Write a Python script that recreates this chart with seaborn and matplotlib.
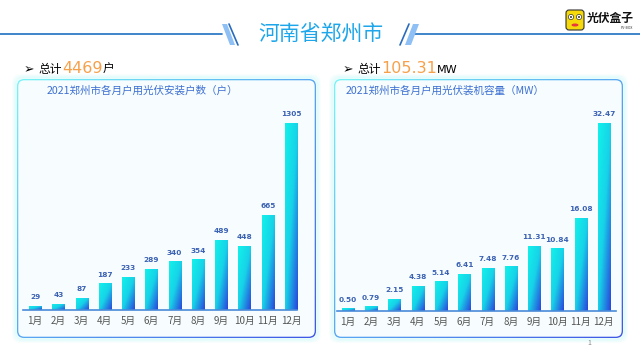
import numpy as np
import matplotlib
matplotlib.use("Agg")
import matplotlib.pyplot as plt
from matplotlib.patches import FancyBboxPatch, Polygon, Circle, Ellipse
from matplotlib.colors import LinearSegmentedColormap
import seaborn as sns

# 数据
months = ["1月", "2月", "3月", "4月", "5月", "6月", "7月", "8月", "9月", "10月", "11月", "12月"]
households = [29, 43, 87, 187, 233, 289, 340, 354, 489, 448, 665, 1305]
capacity = [0.50, 0.79, 2.15, 4.38, 5.14, 6.41, 7.48, 7.76, 11.31, 10.84, 16.08, 32.47]
total_households = "4469"
total_capacity = "105.31"
page_title = "河南省郑州市"
left_title = "2021郑州市各月户用光伏安装户数（户）"
right_title = "2021郑州市各月户用光伏装机容量（MW）"

sns.set_style("white")
plt.rcParams['font.family'] = ['Noto Sans CJK SC', 'DejaVu Sans']

bar_cmap = LinearSegmentedColormap.from_list("bar", ["#12f2ea", "#17d2e8", "#2a44dc"])
edge_cmap = LinearSegmentedColormap.from_list("edge", ["#7af3f6", "#5aa8f2", "#3f58e6"])

fig = plt.figure(figsize=(6.4, 3.6), dpi=100)
fig.patch.set_facecolor("white")

# 背景层，像素坐标（y 向上）
bg = fig.add_axes([0, 0, 1, 1])
bg.set_xlim(0, 640)
bg.set_ylim(0, 360)
bg.axis("off")
H = 360


def gradient_fill(ax, patch, cmap, x0, y0, w, h, z):
    # 左上 -> 右下 的渐变
    U, V = np.meshgrid(np.linspace(0, 1, 30), np.linspace(0, 1, 80))
    im = ax.imshow((U + V) / 2, cmap=cmap, vmin=0, vmax=1, origin="upper",
                   extent=(x0, x0 + w, y0, y0 + h), aspect="auto",
                   interpolation="bilinear", zorder=z)
    im.set_clip_path(patch)
    return im


def panel(x0, top, x1, bottom):
    y0 = H - bottom
    w, h = x1 - x0, bottom - top
    for k in range(5, 0, -1):
        bg.add_patch(FancyBboxPatch((x0, y0), w, h, boxstyle=f"round,pad={k*0.8},rounding_size=7",
                                    fc="none", ec="#9af5f8", lw=1.2, alpha=0.035 * (6 - k), zorder=1))
    outer = FancyBboxPatch((x0, y0), w, h, boxstyle="round,pad=0,rounding_size=7",
                           fc="white", ec="none", zorder=2)
    bg.add_patch(outer)
    gradient_fill(bg, outer, edge_cmap, x0, y0, w, h, 2.1)
    bg.add_patch(FancyBboxPatch((x0 + 1.3, y0 + 1.3), w - 2.6, h - 2.6,
                                boxstyle="round,pad=0,rounding_size=6",
                                fc="#f7fdfe", ec="none", zorder=3))


panel(17, 79, 316, 338)
panel(334, 79, 623, 338)
bg.add_patch(FancyBboxPatch((95, H - 335), 65, 3, boxstyle="round,pad=1.5,rounding_size=2",
                            fc="#c8f6f9", ec="none", alpha=0.7, zorder=1))

# 标题与装饰
bg.plot([0, 222], [H - 34, H - 34], color="#1f6fc0", lw=1.2, zorder=4)
bg.plot([415, 640], [H - 34, H - 34], color="#1f6fc0", lw=1.2, zorder=4)
bg.add_patch(Polygon([(222, H - 24), (227, H - 24), (235, H - 45), (230, H - 45)],
                     closed=True, fc="#8ec0f5", ec="none", zorder=4))
bg.plot([229, 238], [H - 24, H - 45], color="#2a6bbd", lw=1.2, zorder=4)
bg.add_patch(Polygon([(413, H - 24), (419, H - 24), (411, H - 45), (405, H - 45)],
                     closed=True, fc="#8ec0f5", ec="none", zorder=4))
bg.plot([409, 400], [H - 24, H - 45], color="#2a6bbd", lw=1.2, zorder=4)
bg.text(321, H - 35, page_title, ha="center", va="center", fontsize=15,
        color="#1ea6ea", zorder=5)

# 小标题（多色文字顺序排列）
renderer = fig.canvas.get_renderer()


def rich(x, y, parts):
    for s, kw in parts:
        t = bg.text(x, y, s, ha="left", va="baseline", zorder=5, **kw)
        x += t.get_window_extent(renderer=renderer).width


rich(24, H - 73, [("➢ ", dict(fontsize=9, family="DejaVu Sans", color="black")),
                  ("总计", dict(fontsize=8.5, color="black")),
                  (total_households, dict(fontsize=11.5, color="#f7a04a", family="DejaVu Sans")),
                  ("户", dict(fontsize=8.5, color="black"))])
rich(343, H - 73, [("➢ ", dict(fontsize=9, family="DejaVu Sans", color="black")),
                   ("总计", dict(fontsize=8.5, color="black")),
                   (total_capacity, dict(fontsize=11.5, color="#f7a04a", family="DejaVu Sans")),
                   ("MW", dict(fontsize=8, color="black", family="DejaVu Sans"))])

# 面板标题
bg.text(47, H - 91, left_title, ha="left", va="center", fontsize=7.6, color="#3d6fd2", zorder=5)
bg.text(346, H - 91, right_title, ha="left", va="center", fontsize=7.6, color="#3d6fd2", zorder=5)

# logo
bg.add_patch(FancyBboxPatch((566, H - 30), 18, 20, boxstyle="round,pad=0,rounding_size=3",
                            fc="#f5d90a", ec="#333333", lw=0.8, zorder=5))
for ex in (571, 579):
    bg.add_patch(Circle((ex, H - 17), 2.6, fc="white", ec="#333333", lw=0.5, zorder=6))
    bg.add_patch(Circle((ex, H - 17), 1.0, fc="#333333", ec="none", zorder=7))
bg.add_patch(Ellipse((575, H - 25), 7, 3, fc="#e8383d", ec="none", zorder=6))
bg.text(587, H - 18, "光伏盒子", ha="left", va="center", fontsize=8.5, weight="bold",
        color="#111111", zorder=5)
bg.text(633, H - 28, "PV-BOX", ha="right", va="center", fontsize=2.5, color="#333333", zorder=5)
bg.text(589, H - 343, "1", ha="center", va="center", fontsize=5, color="#888888", zorder=5)


def bar_chart(rect, values, labels, top_px, base_px, xlim):
    ax = fig.add_axes(rect)
    ax.set_facecolor("none")
    sns.barplot(x=months, y=values, ax=ax, width=0.52, color="#17d2e8", saturation=1)
    ymax = max(values) * 200 / (base_px - top_px)
    for p in ax.patches:
        p.set_facecolor("none")
        p.set_edgecolor("none")
        gradient_fill(ax, p, bar_cmap, p.get_x(), p.get_y(), p.get_width(), p.get_height(), 2)
    ax.set_xlim(*xlim)
    ax.set_ylim(0, ymax)
    for i, (v, s) in enumerate(zip(values, labels)):
        ax.annotate(s, (i, v), xytext=(0, 4), textcoords="offset points", ha="center",
                    va="bottom", fontsize=5.3, weight="bold", color="#3c62b4",
                    family="DejaVu Sans")
    for sp in ("top", "right", "left"):
        ax.spines[sp].set_visible(False)
    ax.spines["bottom"].set_color("#4a8ad8")
    ax.spines["bottom"].set_linewidth(1.2)
    ax.set_yticks([])
    ax.set_xlabel("")
    ax.set_ylabel("")
    ax.tick_params(axis="x", length=0, pad=4, labelsize=7, labelcolor="#555555")
    return ax


bar_chart([23 / 640, (H - 310) / H, 274 / 640, 200 / H], households,
          [str(v) for v in households], 123, 310, (-0.52, 11.26))
bar_chart([337 / 640, (H - 311) / H, 279 / 640, 200 / H], capacity,
          [f"{v:.2f}" for v in capacity], 123, 311, (-0.47, 11.52))

fig.savefig("out.png", dpi=100)
